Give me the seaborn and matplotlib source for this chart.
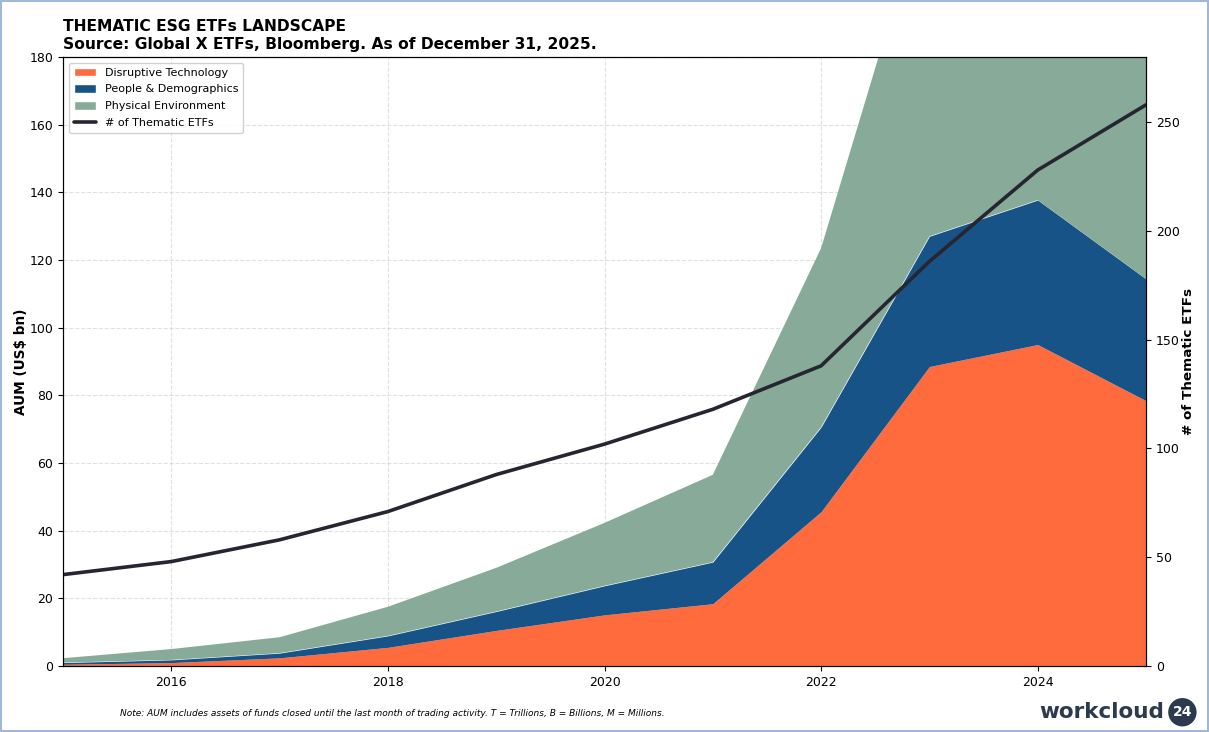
import matplotlib
matplotlib.use("Agg")
import matplotlib.pyplot as plt
from matplotlib.patches import Patch
from matplotlib.lines import Line2D
import seaborn as sns
import pandas as pd

years = [2015, 2016, 2017, 2018, 2019, 2020, 2021, 2022, 2023, 2024, 2025]
disruptive_tech = [0.5, 1.0, 2.4, 5.5, 10.5, 15.1, 18.4, 45.6, 88.5, 95.0, 78.4]
people_demo = [0.5, 0.8, 1.4, 3.4, 5.6, 8.6, 12.3, 25.0, 38.5, 42.7, 36.0]
physical_env = [1.3, 3.2, 4.7, 8.6, 12.9, 18.6, 25.8, 52.9, 103.0, 110.0, 100.0]
num_etfs = [42, 48, 58, 71, 88, 102, 118, 138, 186, 228, 258]

series_names = ["Disruptive Technology", "People & Demographics", "Physical Environment"]
colors = ["#FF6B3D", "#185388", "#88AB99"]
line_color = "#262633"

sns.set_style("ticks")
plt.rcParams["font.family"] = ["DejaVu Sans"]
for k in ["text.color", "axes.labelcolor", "xtick.color", "ytick.color", "axes.edgecolor"]:
    plt.rcParams[k] = "black"

fig = plt.figure(figsize=(12.09, 7.32), dpi=100)
fig.patch.set_edgecolor("#9db8dc")
fig.patch.set_linewidth(1.5)
ax = fig.add_axes([0.0521, 0.0902, 0.8958, 0.8320])

ax.stackplot(years, disruptive_tech, people_demo, physical_env,
             colors=colors, labels=series_names, linewidth=0)
ax.set_xlim(2015, 2025)
ax.set_ylim(0, 180)
ax.set_yticks(range(0, 181, 20))
ax.set_xticks([2016, 2018, 2020, 2022, 2024])
ax.grid(True, linestyle="--", color="#bbbbbb", alpha=0.45, linewidth=0.8)
ax.set_ylabel("AUM (US$ bn)", fontsize=9.8, fontweight="bold", labelpad=1)
ax.tick_params(labelsize=9)

ax2 = ax.twinx()
df = pd.DataFrame({"year": years, "n": num_etfs})
sns.lineplot(data=df, x="year", y="n", ax=ax2, color=line_color, linewidth=2.6)
ax2.set_ylim(0, 280)
ax2.set_yticks(range(0, 251, 50))
ax2.set_ylabel("# of Thematic ETFs", fontsize=9.7, fontweight="bold", labelpad=1.5)
ax2.tick_params(labelsize=9)
ax2.set_xlim(2015, 2025)
ax2.set_xlabel("")

handles = [Patch(facecolor=c, label=n) for c, n in zip(colors, series_names)]
handles.append(Line2D([0], [0], color=line_color, lw=2.6, label="# of Thematic ETFs"))
ax2.legend(handles=handles, loc="upper left", fontsize=8, framealpha=0.9,
           borderpad=0.45, handlelength=2.0, handleheight=0.8, labelspacing=0.6)

ax.set_title("THEMATIC ESG ETFs LANDSCAPE\nSource: Global X ETFs, Bloomberg. As of December 31, 2025.",
             loc="left", fontsize=11.2, fontweight="bold", pad=6, linespacing=1.25)

fig.text(0.0995, 0.025, "Note: AUM includes assets of funds closed until the last month of trading activity. "
         "T = Trillions, B = Billions, M = Millions.", fontsize=6.45, style="italic",
         va="center", ha="left")

fig.text(0.9625, 0.027, "workcloud", fontsize=15.5, fontweight="bold", color="#2b3a4f",
         ha="right", va="center")
fig.text(0.978, 0.027, "24", fontsize=10, fontweight="bold", color="white",
         ha="center", va="center",
         bbox=dict(boxstyle="circle,pad=0.32", facecolor="#2b3a4f", edgecolor="none"))

fig.savefig("out.png", dpi=100)
